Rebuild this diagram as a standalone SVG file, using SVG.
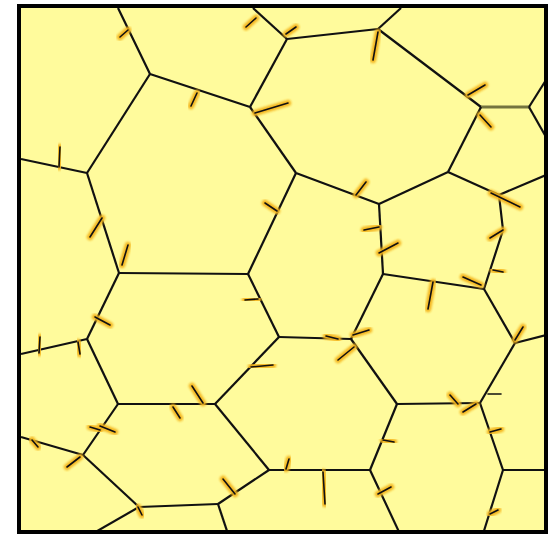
<svg xmlns="http://www.w3.org/2000/svg" width="553" height="534" viewBox="0 0 553 534">
<defs>
<clipPath id="box"><rect x="19" y="6" width="527" height="526"/></clipPath>
<filter id="glow" x="-50%" y="-50%" width="200%" height="200%"><feGaussianBlur stdDeviation="1.1"/></filter>
<style>
.e{stroke:#111;stroke-width:2.2;fill:none;stroke-linejoin:round}
.o{stroke:#f4b51e;stroke-width:6.5;stroke-linecap:round;fill:none;opacity:0.95;filter:url(#glow)}
.k{stroke:#111;stroke-width:1.6;stroke-linecap:round;fill:none}
</style>
</defs>
<rect x="0" y="0" width="553" height="534" fill="#ffffff"/>
<rect x="19" y="6" width="527" height="526" fill="#fffb9c"/>
<g id="edges" clip-path="url(#box)">
<polyline class="e" points="118,8 150,74 250,107"/>
<line class="e" x1="150" y1="74" x2="87" y2="173"/>
<line class="e" x1="87" y1="173" x2="21" y2="159"/>
<line class="e" x1="87" y1="173" x2="119" y2="273"/>
<line class="e" x1="250" y1="107" x2="287" y2="39"/>
<line class="e" x1="250" y1="107" x2="296" y2="173"/>
<line class="e" x1="253" y1="8" x2="287" y2="39"/>
<line class="e" x1="287" y1="39" x2="378" y2="29"/>
<line class="e" x1="378" y1="29" x2="401" y2="8"/>
<line class="e" x1="378" y1="29" x2="481" y2="107"/>
<line x1="481" y1="107" x2="529" y2="107" stroke="#74743e" stroke-width="3"/>
<line class="e" x1="529" y1="107" x2="546" y2="80"/>
<line class="e" x1="529" y1="107" x2="546" y2="137"/>
<line class="e" x1="481" y1="107" x2="448" y2="172"/>
<line class="e" x1="448" y1="172" x2="379" y2="204"/>
<line class="e" x1="296" y1="173" x2="379" y2="204"/>
<line class="e" x1="448" y1="172" x2="499" y2="195"/>
<line class="e" x1="499" y1="195" x2="546" y2="175"/>
<polyline class="e" points="499,195 503,230 484,289"/>
<line class="e" x1="379" y1="204" x2="383" y2="274"/>
<line class="e" x1="296" y1="173" x2="248" y2="274"/>
<line class="e" x1="119" y1="273" x2="248" y2="274"/>
<line class="e" x1="248" y1="274" x2="279" y2="337"/>
<line class="e" x1="383" y1="274" x2="484" y2="289"/>
<line class="e" x1="484" y1="289" x2="515" y2="343"/>
<line class="e" x1="515" y1="343" x2="546" y2="335"/>
<line class="e" x1="515" y1="343" x2="480" y2="403"/>
<line class="e" x1="480" y1="403" x2="397" y2="404"/>
<line class="e" x1="397" y1="404" x2="351" y2="339"/>
<line class="e" x1="351" y1="339" x2="383" y2="274"/>
<line class="e" x1="351" y1="339" x2="279" y2="337"/>
<line class="e" x1="279" y1="337" x2="215" y2="404"/>
<line class="e" x1="119" y1="273" x2="87" y2="339"/>
<line class="e" x1="87" y1="339" x2="21" y2="354"/>
<line class="e" x1="87" y1="339" x2="118" y2="404"/>
<line class="e" x1="118" y1="404" x2="215" y2="404"/>
<line class="e" x1="215" y1="404" x2="269" y2="470"/>
<line class="e" x1="269" y1="470" x2="370" y2="470"/>
<line class="e" x1="397" y1="404" x2="370" y2="470"/>
<line class="e" x1="370" y1="470" x2="400" y2="534"/>
<line class="e" x1="480" y1="403" x2="503" y2="470"/>
<line class="e" x1="503" y1="470" x2="546" y2="470"/>
<line class="e" x1="503" y1="470" x2="483" y2="534"/>
<line class="e" x1="269" y1="470" x2="218" y2="504"/>
<line class="e" x1="218" y1="504" x2="139" y2="507"/>
<line class="e" x1="139" y1="507" x2="83" y2="455"/>
<line class="e" x1="83" y1="455" x2="118" y2="404"/>
<line class="e" x1="83" y1="455" x2="21" y2="437"/>
<line class="e" x1="139" y1="507" x2="92" y2="534"/>
<line class="e" x1="218" y1="504" x2="228" y2="534"/>
</g>
<g id="ticks-glow">
<line class="o" x1="120" y1="37" x2="128" y2="30"/>
<line class="o" x1="191" y1="106" x2="197" y2="93"/>
<line class="o" x1="60" y1="147" x2="59" y2="167"/>
<line class="o" x1="90" y1="237" x2="102" y2="218"/>
<line class="o" x1="122" y1="265" x2="128" y2="245"/>
<line class="o" x1="265" y1="203" x2="277" y2="211"/>
<line class="o" x1="246" y1="27" x2="256" y2="18"/>
<line class="o" x1="255" y1="113" x2="288" y2="103"/>
<line class="o" x1="286" y1="34" x2="296" y2="27"/>
<line class="o" x1="373" y1="60" x2="378" y2="32"/>
<line class="o" x1="468" y1="95" x2="485" y2="85"/>
<line class="o" x1="480" y1="115" x2="491" y2="127"/>
<line class="o" x1="356" y1="195" x2="366" y2="182"/>
<line class="o" x1="364" y1="230" x2="379" y2="227"/>
<line class="o" x1="379" y1="253" x2="398" y2="243"/>
<line class="o" x1="491" y1="193" x2="520" y2="207"/>
<line class="o" x1="490" y1="238" x2="503" y2="230"/>
<line class="o" x1="493" y1="270" x2="503" y2="272"/>
<line class="o" x1="95" y1="317" x2="110" y2="325"/>
<line class="o" x1="40" y1="337" x2="39" y2="353"/>
<line class="o" x1="78" y1="342" x2="80" y2="354"/>
<line class="o" x1="245" y1="300" x2="258" y2="299"/>
<line class="o" x1="251" y1="367" x2="273" y2="365"/>
<line class="o" x1="192" y1="386" x2="203" y2="403"/>
<line class="o" x1="173" y1="407" x2="180" y2="418"/>
<line class="o" x1="90" y1="427" x2="100" y2="430"/>
<line class="o" x1="100" y1="426" x2="115" y2="432"/>
<line class="o" x1="32" y1="440" x2="38" y2="447"/>
<line class="o" x1="67" y1="467" x2="80" y2="457"/>
<line class="o" x1="223" y1="479" x2="235" y2="494"/>
<line class="o" x1="138" y1="507" x2="142" y2="515"/>
<line class="o" x1="433" y1="282" x2="428" y2="309"/>
<line class="o" x1="463" y1="277" x2="481" y2="285"/>
<line class="o" x1="353" y1="335" x2="369" y2="330"/>
<line class="o" x1="338" y1="360" x2="354" y2="347"/>
<line class="o" x1="326" y1="336" x2="338" y2="339"/>
<line class="o" x1="515" y1="340" x2="523" y2="327"/>
<line class="o" x1="488" y1="394" x2="501" y2="394"/>
<line class="o" x1="450" y1="395" x2="458" y2="404"/>
<line class="o" x1="463" y1="412" x2="476" y2="404"/>
<line class="o" x1="490" y1="432" x2="501" y2="429"/>
<line class="o" x1="383" y1="440" x2="394" y2="442"/>
<line class="o" x1="286" y1="469" x2="289" y2="459"/>
<line class="o" x1="323" y1="472" x2="325" y2="504"/>
<line class="o" x1="378" y1="494" x2="391" y2="487"/>
<line class="o" x1="490" y1="514" x2="498" y2="510"/>
</g>
<g id="ticks">
<line class="k" x1="120" y1="37" x2="128" y2="30"/>
<line class="k" x1="191" y1="106" x2="197" y2="93"/>
<line class="k" x1="60" y1="147" x2="59" y2="167"/>
<line class="k" x1="90" y1="237" x2="102" y2="218"/>
<line class="k" x1="122" y1="265" x2="128" y2="245"/>
<line class="k" x1="265" y1="203" x2="277" y2="211"/>
<line class="k" x1="246" y1="27" x2="256" y2="18"/>
<line class="k" x1="255" y1="113" x2="288" y2="103"/>
<line class="k" x1="286" y1="34" x2="296" y2="27"/>
<line class="k" x1="373" y1="60" x2="378" y2="32"/>
<line class="k" x1="468" y1="95" x2="485" y2="85"/>
<line class="k" x1="480" y1="115" x2="491" y2="127"/>
<line class="k" x1="356" y1="195" x2="366" y2="182"/>
<line class="k" x1="364" y1="230" x2="379" y2="227"/>
<line class="k" x1="379" y1="253" x2="398" y2="243"/>
<line class="k" x1="491" y1="193" x2="520" y2="207"/>
<line class="k" x1="490" y1="238" x2="503" y2="230"/>
<line class="k" x1="493" y1="270" x2="503" y2="272"/>
<line class="k" x1="95" y1="317" x2="110" y2="325"/>
<line class="k" x1="40" y1="337" x2="39" y2="353"/>
<line class="k" x1="78" y1="342" x2="80" y2="354"/>
<line class="k" x1="245" y1="300" x2="258" y2="299"/>
<line class="k" x1="251" y1="367" x2="273" y2="365"/>
<line class="k" x1="192" y1="386" x2="203" y2="403"/>
<line class="k" x1="173" y1="407" x2="180" y2="418"/>
<line class="k" x1="90" y1="427" x2="100" y2="430"/>
<line class="k" x1="100" y1="426" x2="115" y2="432"/>
<line class="k" x1="32" y1="440" x2="38" y2="447"/>
<line class="k" x1="67" y1="467" x2="80" y2="457"/>
<line class="k" x1="223" y1="479" x2="235" y2="494"/>
<line class="k" x1="138" y1="507" x2="142" y2="515"/>
<line class="k" x1="433" y1="282" x2="428" y2="309"/>
<line class="k" x1="463" y1="277" x2="481" y2="285"/>
<line class="k" x1="353" y1="335" x2="369" y2="330"/>
<line class="k" x1="338" y1="360" x2="354" y2="347"/>
<line class="k" x1="326" y1="336" x2="338" y2="339"/>
<line class="k" x1="515" y1="340" x2="523" y2="327"/>
<line class="k" x1="488" y1="394" x2="501" y2="394"/>
<line class="k" x1="450" y1="395" x2="458" y2="404"/>
<line class="k" x1="463" y1="412" x2="476" y2="404"/>
<line class="k" x1="490" y1="432" x2="501" y2="429"/>
<line class="k" x1="383" y1="440" x2="394" y2="442"/>
<line class="k" x1="286" y1="469" x2="289" y2="459"/>
<line class="k" x1="323" y1="472" x2="325" y2="504"/>
<line class="k" x1="378" y1="494" x2="391" y2="487"/>
<line class="k" x1="490" y1="514" x2="498" y2="510"/>
</g>
<rect x="19" y="6" width="527" height="526" fill="none" stroke="#000" stroke-width="4"/>
</svg>
